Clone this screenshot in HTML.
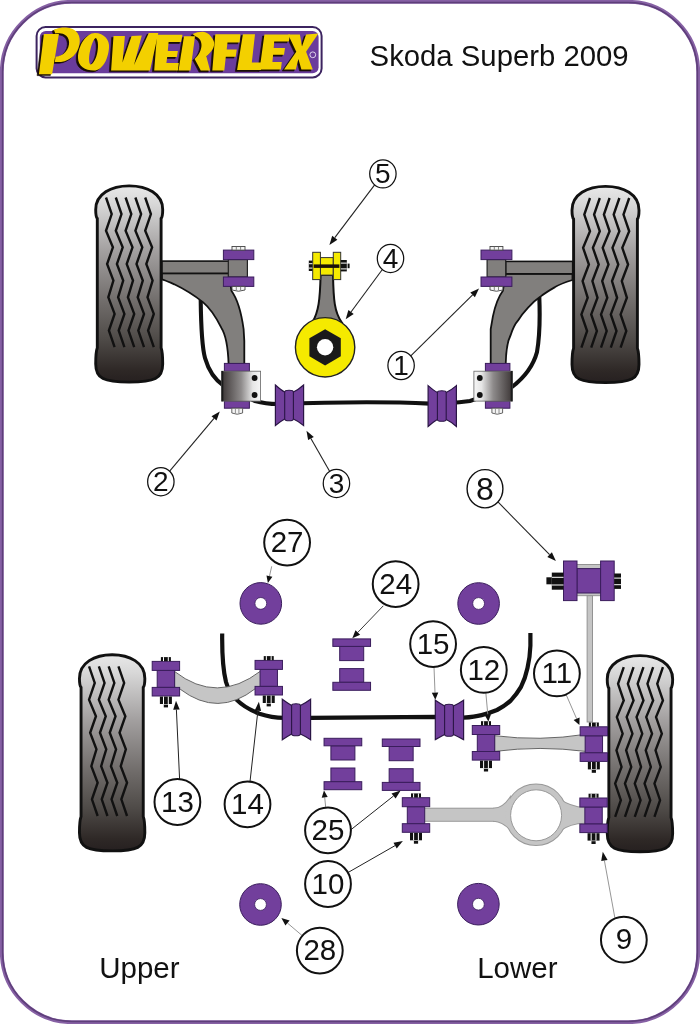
<!DOCTYPE html>
<html><head><meta charset="utf-8">
<style>
html,body{margin:0;padding:0;background:#fff;width:700px;height:1024px;overflow:hidden}
svg{display:block;font-family:"Liberation Sans",sans-serif;will-change:transform}
</style></head><body>
<svg width="700" height="1024" viewBox="0 0 700 1024">
<defs>
<linearGradient id="tireg" x1="0" y1="0" x2="0" y2="1">
<stop offset="0" stop-color="#e8e8e8"/>
<stop offset="0.09" stop-color="#d8d8d8"/>
<stop offset="0.33" stop-color="#a3a0a0"/>
<stop offset="0.6" stop-color="#6f6b69"/>
<stop offset="0.78" stop-color="#4f4b48"/>
<stop offset="0.94" stop-color="#2e2826"/>
<stop offset="1" stop-color="#262020"/>
</linearGradient>
<linearGradient id="clampL" x1="0" y1="0" x2="1" y2="0">
<stop offset="0" stop-color="#3c3636"/>
<stop offset="0.5" stop-color="#8e8b8b"/>
<stop offset="0.8" stop-color="#e6e6e6"/>
<stop offset="1" stop-color="#f6f6f6"/>
</linearGradient>
<linearGradient id="clampR" x1="1" y1="0" x2="0" y2="0">
<stop offset="0" stop-color="#3c3636"/>
<stop offset="0.5" stop-color="#8e8b8b"/>
<stop offset="0.8" stop-color="#e6e6e6"/>
<stop offset="1" stop-color="#f6f6f6"/>
</linearGradient>
<path id="tireshape" d="M2.3,33 C0,31 0,28 0,24 C0,8 16,0 34.25,0 C52.5,0 68.5,8 68.5,24 C68.5,28 68.5,31 66.2,33 L66.2,163.6 C68.5,168 68.5,172 68.5,180 C68.5,195 60,198.4 34.25,198.4 C8.5,198.4 0,195 0,180 C0,172 0,168 2.3,163.6 Z"/>
</defs>
<rect x="1.8" y="1.8" width="696.4" height="1020.4" rx="70" ry="70" fill="none" stroke="#8660a4" stroke-width="3.8"/>
<rect x="2.6" y="2.6" width="694.8" height="1018.8" rx="69.2" ry="69.2" fill="none" stroke="#5e3f7a" stroke-width="1.5"/>
<text x="369.6" y="65.9" font-size="29.3" fill="#111">Skoda Superb 2009</text>
<text x="99.2" y="977.8" font-size="29.5" fill="#111">Upper</text>
<text x="477.2" y="977.8" font-size="29.5" fill="#111">Lower</text>

<g transform="translate(95.7,185.9)"><path d="M1.6,32.63 C0,30.66 0,27.69 0,23.73 C0,7.91 15.61,0 33.50,0 C51.39,0 67.0,7.91 67.0,23.73 C67.0,27.69 67.0,30.66 65.4,32.63 L65.4,161.79 C67.0,166.14 67.0,170.09 67.0,178.00 C67.0,192.84 58.69,196.2 33.50,196.2 C8.31,196.2 0,192.84 0,178.00 C0,170.09 0,166.14 1.6,161.79 Z" fill="url(#tireg)" stroke="#111" stroke-width="2.9"/><polyline points="10.3,11.6 16.0,28.2 10.3,44.9 17.2,61.5 11.4,78.1 17.7,94.7 12.6,111.4 18.9,128.0 13.2,144.6 18.9,161.3" fill="none" stroke="#111" stroke-width="2.4" stroke-linejoin="miter"/><polyline points="20.1,11.6 25.8,28.2 20.1,44.9 27.0,61.5 21.2,78.1 27.5,94.7 22.4,111.4 28.7,128.0 23.0,144.6 28.7,161.3" fill="none" stroke="#111" stroke-width="2.4" stroke-linejoin="miter"/><polyline points="29.9,11.6 35.6,28.2 29.9,44.9 36.8,61.5 31.0,78.1 37.3,94.7 32.2,111.4 38.5,128.0 32.8,144.6 38.5,161.3" fill="none" stroke="#111" stroke-width="2.4" stroke-linejoin="miter"/><polyline points="39.7,11.6 45.4,28.2 39.7,44.9 46.6,61.5 40.8,78.1 47.1,94.7 42.0,111.4 48.3,128.0 42.6,144.6 48.3,161.3" fill="none" stroke="#111" stroke-width="2.4" stroke-linejoin="miter"/><polyline points="49.5,11.6 55.2,28.2 49.5,44.9 56.4,61.5 50.6,78.1 56.9,94.7 51.8,111.4 58.1,128.0 52.4,144.6 58.1,161.3" fill="none" stroke="#111" stroke-width="2.4" stroke-linejoin="miter"/></g>
<g transform="translate(639.0,186.4) scale(-1,1)"><path d="M1.6,32.63 C0,30.66 0,27.69 0,23.73 C0,7.91 15.61,0 33.50,0 C51.39,0 67.0,7.91 67.0,23.73 C67.0,27.69 67.0,30.66 65.4,32.63 L65.4,161.79 C67.0,166.14 67.0,170.09 67.0,178.00 C67.0,192.84 58.69,196.2 33.50,196.2 C8.31,196.2 0,192.84 0,178.00 C0,170.09 0,166.14 1.6,161.79 Z" fill="url(#tireg)" stroke="#111" stroke-width="2.9"/><polyline points="9.8,11.6 15.5,28.2 9.8,44.9 16.7,61.5 10.9,78.1 17.2,94.7 12.1,111.4 18.4,128.0 12.7,144.6 18.4,161.3" fill="none" stroke="#111" stroke-width="2.4" stroke-linejoin="miter"/><polyline points="19.6,11.6 25.3,28.2 19.6,44.9 26.5,61.5 20.7,78.1 27.0,94.7 21.9,111.4 28.2,128.0 22.5,144.6 28.2,161.3" fill="none" stroke="#111" stroke-width="2.4" stroke-linejoin="miter"/><polyline points="29.4,11.6 35.1,28.2 29.4,44.9 36.3,61.5 30.5,78.1 36.8,94.7 31.7,111.4 38.0,128.0 32.3,144.6 38.0,161.3" fill="none" stroke="#111" stroke-width="2.4" stroke-linejoin="miter"/><polyline points="39.2,11.6 44.9,28.2 39.2,44.9 46.1,61.5 40.3,78.1 46.6,94.7 41.5,111.4 47.8,128.0 42.1,144.6 47.8,161.3" fill="none" stroke="#111" stroke-width="2.4" stroke-linejoin="miter"/><polyline points="49.0,11.6 54.7,28.2 49.0,44.9 55.9,61.5 50.1,78.1 56.4,94.7 51.3,111.4 57.6,128.0 51.9,144.6 57.6,161.3" fill="none" stroke="#111" stroke-width="2.4" stroke-linejoin="miter"/></g>
<g transform="translate(79.45,654.7)"><path d="M1.6,32.63 C0,30.66 0,27.69 0,23.73 C0,7.91 15.24,0 32.70,0 C50.16,0 65.4,7.91 65.4,23.73 C65.4,27.69 65.4,30.66 63.800000000000004,32.63 L63.800000000000004,161.79 C65.4,166.14 65.4,170.09 65.4,178.00 C65.4,192.84 57.29,196.2 32.70,196.2 C8.11,196.2 0,192.84 0,178.00 C0,170.09 0,166.14 1.6,161.79 Z" fill="url(#tireg)" stroke="#111" stroke-width="2.9"/><polyline points="9.6,11.6 15.3,28.2 9.6,44.9 16.5,61.5 10.7,78.1 17.0,94.7 11.9,111.4 18.2,128.0 12.5,144.6 18.2,161.3" fill="none" stroke="#111" stroke-width="2.4" stroke-linejoin="miter"/><polyline points="19.4,11.6 25.1,28.2 19.4,44.9 26.3,61.5 20.5,78.1 26.8,94.7 21.7,111.4 28.0,128.0 22.3,144.6 28.0,161.3" fill="none" stroke="#111" stroke-width="2.4" stroke-linejoin="miter"/><polyline points="29.2,11.6 34.9,28.2 29.2,44.9 36.1,61.5 30.3,78.1 36.6,94.7 31.5,111.4 37.8,128.0 32.1,144.6 37.8,161.3" fill="none" stroke="#111" stroke-width="2.4" stroke-linejoin="miter"/><polyline points="39.0,11.6 44.7,28.2 39.0,44.9 45.9,61.5 40.1,78.1 46.4,94.7 41.3,111.4 47.6,128.0 41.9,144.6 47.6,161.3" fill="none" stroke="#111" stroke-width="2.4" stroke-linejoin="miter"/></g>
<g transform="translate(672.65,655.6) scale(-1,1)"><path d="M1.6,32.63 C0,30.66 0,27.69 0,23.73 C0,7.91 15.24,0 32.70,0 C50.16,0 65.4,7.91 65.4,23.73 C65.4,27.69 65.4,30.66 63.800000000000004,32.63 L63.800000000000004,161.79 C65.4,166.14 65.4,170.09 65.4,178.00 C65.4,192.84 57.29,196.2 32.70,196.2 C8.11,196.2 0,192.84 0,178.00 C0,170.09 0,166.14 1.6,161.79 Z" fill="url(#tireg)" stroke="#111" stroke-width="2.9"/><polyline points="9.7,11.6 15.4,28.2 9.7,44.9 16.6,61.5 10.8,78.1 17.1,94.7 11.9,111.4 18.2,128.0 12.6,144.6 18.2,161.3" fill="none" stroke="#111" stroke-width="2.4" stroke-linejoin="miter"/><polyline points="19.5,11.6 25.2,28.2 19.5,44.9 26.4,61.5 20.6,78.1 26.9,94.7 21.8,111.4 28.1,128.0 22.4,144.6 28.1,161.3" fill="none" stroke="#111" stroke-width="2.4" stroke-linejoin="miter"/><polyline points="29.2,11.6 35.0,28.2 29.2,44.9 36.1,61.5 30.4,78.1 36.6,94.7 31.6,111.4 37.9,128.0 32.1,144.6 37.9,161.3" fill="none" stroke="#111" stroke-width="2.4" stroke-linejoin="miter"/><polyline points="39.1,11.6 44.8,28.2 39.1,44.9 46.0,61.5 40.2,78.1 46.5,94.7 41.4,111.4 47.7,128.0 42.0,144.6 47.7,161.3" fill="none" stroke="#111" stroke-width="2.4" stroke-linejoin="miter"/><polyline points="48.9,11.6 54.6,28.2 48.9,44.9 55.8,61.5 50.0,78.1 56.2,94.7 51.1,111.4 57.5,128.0 51.8,144.6 57.5,161.3" fill="none" stroke="#111" stroke-width="2.4" stroke-linejoin="miter"/></g>
<rect x="36.6" y="27" width="285" height="50.4" rx="9" ry="9" fill="#fff" stroke="#3c2460" stroke-width="2"/>
<rect x="39.8" y="30.9" width="278.8" height="42.3" rx="6" ry="6" fill="#6a3c9c"/>
<g fill="#1a0e05" fill-rule="evenodd" stroke="#1a0e05" stroke-width="0.6" transform="translate(-1.8,1.4)"><path d="M38.9,74.2 L43.9,34 L58.9,34 L52.1,74.2 Z"/><path d="M53.9,29.7 C58,27.8 62,27.3 66,27.4 C71,27.6 75,29.5 77.5,33 C80,36.5 80.2,41 79.3,45 C78.5,49 76.5,53 73.5,56 C70.5,59 66,61.3 61,61.9 L54.8,61.9 L55.6,56.8 C59.5,56.5 62.8,54.8 65.4,52 C68,49 69.3,45.5 69.1,42 C68.9,38.5 67.2,35.8 64.3,34.4 C61.5,33.2 58.2,33.1 55.3,33.4 Z"/><path d="M95,33 C104,33 110,40 109,48 C108,60 102,70.5 94,70.5 C85,70.5 78,66 78,58 C78,46 86,33 95,33 Z M96,38 C98.5,40.5 98.5,48 97,54 C95.5,60 92.5,64.5 90.5,64.5 C88.5,63 88.8,56 90.3,50 C91.8,44 94,38 96,38 Z"/><path d="M113.5,36 L124.9,36 L122.5,62.6 L131.6,36 L141.8,35.5 L134,64.9 L148.8,32.9 L158.3,32.9 L150,70.4 L111.1,70.4 Z"/><path d="M157,34.7 L182.5,34.7 L181.1,42.1 L168.6,42.1 L167.8,50.9 L177.9,50.9 L176.9,57 L167.2,57 L166.4,63 L178.8,63 L177.9,70.4 L154.2,70.4 Z"/><path d="M184,36.3 L195,36.3 L190.5,70.6 L178.5,70.6 Z"/><path d="M192.6,33.9 C196,32.5 199,31.8 202.9,31.8 C206,32 209,33.8 210.9,36.5 C213.5,39.5 214.5,42 214.2,44.5 C213.8,47 213,49 211.5,51 C209.8,53 208,55 206.3,56.2 L210.1,70.6 L200.8,70.6 L194.6,58.9 C196.5,57 198.5,55 199.6,52.5 C200.8,50 201.5,47.5 201.5,45 C201.4,42.5 200.8,40.5 199.4,39 C198,37.6 196.8,36.8 195.3,36.3 Z"/><path d="M215.3,34.3 L240.4,34.2 L239.6,42.4 L227.5,42.4 L226.7,49.6 L236.8,49.6 L235.7,56.7 L225.8,56.7 L224.3,70.4 L212.3,70.4 Z"/><path d="M242.9,34.2 L255,34.2 L251.8,62.4 L262,62.4 L260.9,70 L237.1,70 Z"/><path d="M264.4,34.6 L290.1,34.6 L288.8,41.4 L274.2,41.4 L273.7,48.1 L285,48.1 L284,54.8 L273.1,54.8 L272.4,61.9 L281.8,61.9 L280.9,69.6 L259.6,69.6 Z"/><path d="M288.1,34.6 L299.9,34.6 L302,46.6 L306.1,34.6 L318.4,33.4 L306.1,51.7 L312.8,69.6 L301.4,69.6 L298.4,58.9 L295.8,69.6 L284,69.6 L296.3,51.7 Z"/></g>
<g fill="#f3d000" fill-rule="evenodd"><path d="M38.9,74.2 L43.9,34 L58.9,34 L52.1,74.2 Z"/><path d="M53.9,29.7 C58,27.8 62,27.3 66,27.4 C71,27.6 75,29.5 77.5,33 C80,36.5 80.2,41 79.3,45 C78.5,49 76.5,53 73.5,56 C70.5,59 66,61.3 61,61.9 L54.8,61.9 L55.6,56.8 C59.5,56.5 62.8,54.8 65.4,52 C68,49 69.3,45.5 69.1,42 C68.9,38.5 67.2,35.8 64.3,34.4 C61.5,33.2 58.2,33.1 55.3,33.4 Z"/><path d="M95,33 C104,33 110,40 109,48 C108,60 102,70.5 94,70.5 C85,70.5 78,66 78,58 C78,46 86,33 95,33 Z M96,38 C98.5,40.5 98.5,48 97,54 C95.5,60 92.5,64.5 90.5,64.5 C88.5,63 88.8,56 90.3,50 C91.8,44 94,38 96,38 Z"/><path d="M113.5,36 L124.9,36 L122.5,62.6 L131.6,36 L141.8,35.5 L134,64.9 L148.8,32.9 L158.3,32.9 L150,70.4 L111.1,70.4 Z"/><path d="M157,34.7 L182.5,34.7 L181.1,42.1 L168.6,42.1 L167.8,50.9 L177.9,50.9 L176.9,57 L167.2,57 L166.4,63 L178.8,63 L177.9,70.4 L154.2,70.4 Z"/><path d="M184,36.3 L195,36.3 L190.5,70.6 L178.5,70.6 Z"/><path d="M192.6,33.9 C196,32.5 199,31.8 202.9,31.8 C206,32 209,33.8 210.9,36.5 C213.5,39.5 214.5,42 214.2,44.5 C213.8,47 213,49 211.5,51 C209.8,53 208,55 206.3,56.2 L210.1,70.6 L200.8,70.6 L194.6,58.9 C196.5,57 198.5,55 199.6,52.5 C200.8,50 201.5,47.5 201.5,45 C201.4,42.5 200.8,40.5 199.4,39 C198,37.6 196.8,36.8 195.3,36.3 Z"/><path d="M215.3,34.3 L240.4,34.2 L239.6,42.4 L227.5,42.4 L226.7,49.6 L236.8,49.6 L235.7,56.7 L225.8,56.7 L224.3,70.4 L212.3,70.4 Z"/><path d="M242.9,34.2 L255,34.2 L251.8,62.4 L262,62.4 L260.9,70 L237.1,70 Z"/><path d="M264.4,34.6 L290.1,34.6 L288.8,41.4 L274.2,41.4 L273.7,48.1 L285,48.1 L284,54.8 L273.1,54.8 L272.4,61.9 L281.8,61.9 L280.9,69.6 L259.6,69.6 Z"/><path d="M288.1,34.6 L299.9,34.6 L302,46.6 L306.1,34.6 L318.4,33.4 L306.1,51.7 L312.8,69.6 L301.4,69.6 L298.4,58.9 L295.8,69.6 L284,69.6 L296.3,51.7 Z"/></g>
<circle cx="312.8" cy="54.8" r="2.9" fill="none" stroke="#e8e0f0" stroke-width="0.9"/>
<path d="M200.7,300 C201,325 201.5,345 205,358 C209,372 215,380 224,386 L255,401 C262,403 268,404 278,404 Q370,400.6 430,403.6 C436,403.8 448,403.6 470,401 L512,387 C525,377 533,367 537,352 C540,335 540,315 539.3,297" fill="none" stroke="#111" stroke-width="4.1" stroke-linecap="butt"/>
<path d="M162,273.3 L229,273.3 L231.4,290.7 C236,297 241,310 243.6,329 L244.3,341 L244.3,364 L228.6,364 C228,348 226,335 221.4,327.9 C216,317 210,308 202.9,302.1 C195,296 182,288 174.3,284.3 C169,282 165,280 162,279.3 Z" fill="#817f7d" stroke="#111" stroke-width="1.8"/>
<rect x="162" y="261.1" width="67" height="12.2" fill="#817f7d" stroke="#111" stroke-width="1.6"/>
<path d="M572.5,273.8 L505.7,273.8 L502.9,290.7 C499,296 495,306 492.9,316.4 L490.7,329 L490.7,364 L505.7,364 C506,350 507,342 510.7,335 C513,328 515,324 517.9,320.7 C522,314 526,310 529.3,306.4 C534,301 537,299 540.7,296.4 C545,293 550,290 555,287.1 C560,284 566,282 572.5,280 Z" fill="#817f7d" stroke="#111" stroke-width="1.8"/>
<rect x="505.7" y="261.4" width="67" height="12.4" fill="#817f7d" stroke="#111" stroke-width="1.6"/>
<rect x="228.3" y="259.5" width="19.10" height="17.50" fill="#817f7d" stroke="#222" stroke-width="1.2"/><rect x="223.4" y="250.1" width="30.40" height="9.50" fill="#723f9c" stroke="#3a1d5c" stroke-width="1"/><rect x="223.4" y="277" width="30.40" height="9.40" fill="#723f9c" stroke="#3a1d5c" stroke-width="1"/><rect x="232" y="246.5" width="13.0" height="3.6" fill="#f4f4f4" stroke="#444" stroke-width="0.9"/><path d="M232,286.4 L232,290 Q238.5,292.5 245,290 L245,286.4 Z" fill="#f4f4f4" stroke="#444" stroke-width="0.9"/><line x1="236.3" y1="246.8" x2="236.3" y2="249.8" stroke="#666" stroke-width="0.8"/><line x1="236.3" y1="286.8" x2="236.3" y2="290" stroke="#666" stroke-width="0.8"/><line x1="240.6" y1="246.8" x2="240.6" y2="249.8" stroke="#666" stroke-width="0.8"/><line x1="240.6" y1="286.8" x2="240.6" y2="290" stroke="#666" stroke-width="0.8"/>
<rect x="487.1" y="259.5" width="18.60" height="17.50" fill="#817f7d" stroke="#222" stroke-width="1.2"/><rect x="481" y="250.1" width="30.90" height="9.50" fill="#723f9c" stroke="#3a1d5c" stroke-width="1"/><rect x="481" y="277" width="30.90" height="9.40" fill="#723f9c" stroke="#3a1d5c" stroke-width="1"/><rect x="490" y="246.5" width="12.9" height="3.6" fill="#f4f4f4" stroke="#444" stroke-width="0.9"/><path d="M490,286.4 L490,290 Q496.4,292.5 502.9,290 L502.9,286.4 Z" fill="#f4f4f4" stroke="#444" stroke-width="0.9"/><line x1="494.3" y1="246.8" x2="494.3" y2="249.8" stroke="#666" stroke-width="0.8"/><line x1="494.3" y1="286.8" x2="494.3" y2="290" stroke="#666" stroke-width="0.8"/><line x1="498.5" y1="246.8" x2="498.5" y2="249.8" stroke="#666" stroke-width="0.8"/><line x1="498.5" y1="286.8" x2="498.5" y2="290" stroke="#666" stroke-width="0.8"/>
<rect x="224.4" y="363.4" width="25.00" height="7.90" fill="#723f9c" stroke="#3a1d5c" stroke-width="1"/><rect x="224.4" y="401.1" width="25.00" height="7.10" fill="#723f9c" stroke="#3a1d5c" stroke-width="1"/><rect x="221.6" y="371.2" width="39.0" height="29.9" fill="url(#clampL)" stroke="#666" stroke-width="0.8"/><line x1="222.4" y1="371" x2="222.4" y2="401.3" stroke="#1a1a1a" stroke-width="1.8"/><circle cx="254.6" cy="378" r="2.9" fill="#111"/><circle cx="254.6" cy="395" r="2.9" fill="#111"/><path d="M231.8,408.2 L231.8,413 Q237.2,415.5 242.6,413 L242.6,408.2 Z" fill="#f4f4f4" stroke="#555" stroke-width="0.9"/><line x1="235.4" y1="408.5" x2="235.4" y2="413" stroke="#777" stroke-width="0.8"/><line x1="238.9" y1="408.5" x2="238.9" y2="413" stroke="#777" stroke-width="0.8"/>
<rect x="485.4" y="363.4" width="24.50" height="7.90" fill="#723f9c" stroke="#3a1d5c" stroke-width="1"/><rect x="485.4" y="401.1" width="24.50" height="7.10" fill="#723f9c" stroke="#3a1d5c" stroke-width="1"/><rect x="473.9" y="371.2" width="38.5" height="29.9" fill="url(#clampR)" stroke="#666" stroke-width="0.8"/><line x1="511.59999999999997" y1="371" x2="511.59999999999997" y2="401.3" stroke="#1a1a1a" stroke-width="1.8"/><circle cx="479.8" cy="378" r="2.9" fill="#111"/><circle cx="479.8" cy="395" r="2.9" fill="#111"/><path d="M491.9,408.2 L491.9,413 Q497.2,415.5 502.6,413 L502.6,408.2 Z" fill="#f4f4f4" stroke="#555" stroke-width="0.9"/><line x1="495.4" y1="408.5" x2="495.4" y2="413" stroke="#777" stroke-width="0.8"/><line x1="499.0" y1="408.5" x2="499.0" y2="413" stroke="#777" stroke-width="0.8"/>
<path d="M275.4,385 Q281.0,390.0 284.7,392 L293.4,392 Q298.0,390.0 303.6,385 L303.6,425.5 Q298.0,421.0 293.4,419 L284.7,419 Q281.0,421.0 275.4,425.5 Z" fill="#723f9c" stroke="#2a1545" stroke-width="1.2" stroke-linejoin="miter"/><path d="M284.7,392 Q284.7,390.2 289.1,390.2 Q293.4,390.2 293.4,392 L293.4,419 Q293.4,420.8 289.1,420.8 Q284.7,420.8 284.7,419 Z" fill="#723f9c" stroke="#2a1545" stroke-width="1.1"/>
<path d="M428.1,385.6 Q433.8,390.5 437.4,392.5 L446.2,392.5 Q450.7,390.5 456.4,385.6 L456.4,426.5 Q450.7,421.5 446.2,419.5 L437.4,419.5 Q433.8,421.5 428.1,426.5 Z" fill="#723f9c" stroke="#2a1545" stroke-width="1.2" stroke-linejoin="miter"/><path d="M437.4,392.5 Q437.4,390.7 441.8,390.7 Q446.2,390.7 446.2,392.5 L446.2,419.5 Q446.2,421.3 441.8,421.3 Q437.4,421.3 437.4,419.5 Z" fill="#723f9c" stroke="#2a1545" stroke-width="1.1"/>
<path d="M320.6,275 L333,275 C333.5,300 334.5,312 341.5,322 L312.5,322 C318.5,312 320,300 320.6,275 Z" fill="#817f7d" stroke="#111" stroke-width="2"/>
<circle cx="325.1" cy="347.3" r="29.7" fill="#f5ea00" stroke="#222" stroke-width="1.4"/>
<path d="M325.1,329.2 L340.8,338.25 L340.8,356.35 L325.1,365.4 L309.4,356.35 L309.4,338.25 Z" fill="#1a1a1a"/>
<circle cx="325.1" cy="347.3" r="8.2" fill="#fff"/>
<rect x="320.4" y="257.6" width="12.90" height="17.50" fill="#f5ea00" stroke="#333" stroke-width="1"/>
<rect x="312.7" y="252.3" width="7.70" height="27.30" fill="#f5ea00" stroke="#333" stroke-width="1"/>
<rect x="333.3" y="252.3" width="7.40" height="27.30" fill="#f5ea00" stroke="#333" stroke-width="1"/>
<rect x="313.7" y="264.4" width="25.7" height="3.5" fill="#1a1008"/>
<rect x="308.8" y="260.6" width="3.6" height="10.4" fill="#111"/><rect x="308.8" y="263.2" width="3.6" height="1" fill="#fff"/><rect x="308.8" y="267.6" width="3.6" height="1" fill="#fff"/>
<rect x="340.8" y="260" width="6" height="11.4" fill="#111"/><rect x="340.8" y="262.6" width="6" height="1" fill="#fff"/><rect x="340.8" y="268.4" width="6" height="1" fill="#fff"/><rect x="347.6" y="263.6" width="2" height="4.6" fill="#111"/>
<line x1="374.63" y1="184.84" x2="334.8" y2="237.7" stroke="#222" stroke-width="1.1"/><path d="M329.4,244.9 L332.2,235.8 L337.4,239.7 Z" fill="#111"/>
<line x1="382.34" y1="269.48" x2="351.0" y2="312.0" stroke="#222" stroke-width="1.1"/><path d="M345.7,319.2 L348.4,310.0 L353.7,313.9 Z" fill="#111"/>
<line x1="410.79" y1="355.93" x2="472.6" y2="294.9" stroke="#222" stroke-width="1.1"/><path d="M479,288.6 L474.9,297.2 L470.3,292.6 Z" fill="#111"/>
<line x1="169.66" y1="471.2" x2="214.0" y2="418.4" stroke="#222" stroke-width="1.1"/><path d="M219.8,411.5 L216.5,420.5 L211.5,416.3 Z" fill="#111"/>
<line x1="329.6" y1="471.35" x2="310.9" y2="438.5" stroke="#222" stroke-width="1.1"/><path d="M306.5,430.7 L313.8,436.9 L308.1,440.1 Z" fill="#111"/>
<path d="M222.2,633.5 C222,650 222.5,668 226,682 C230,696 242,707 259.4,713.7 C268,716.5 276,717.8 284,717.9 L310,717.9 L436,716.8 L463.6,717.7 C470,717.2 476,716.5 481.6,715.1 C488,713.5 492,712 497,710 C503,707 507,704 510.7,700.6 C515,696 518,692 521,686.9 C524,681 526,675 527.5,668 C529.3,660 530.2,652 530.4,645.7 L530.4,633" fill="none" stroke="#111" stroke-width="4.2"/>
<rect x="587.1" y="595.5" width="5.4" height="126.5" fill="#c5c5c5" stroke="#8c8c8c" stroke-width="0.9"/>
<rect x="575" y="564.5" width="27.5" height="31.2" fill="#c5c5c5" stroke="#8c8c8c" stroke-width="0.9"/>
<rect x="577" y="568.6" width="23.60" height="24.40" fill="#723f9c" stroke="#3a1d5c" stroke-width="1"/>
<rect x="563.5" y="561" width="13.50" height="39.60" fill="#723f9c" stroke="#3a1d5c" stroke-width="1"/><rect x="600.6" y="561" width="13.60" height="39.60" fill="#723f9c" stroke="#3a1d5c" stroke-width="1"/>
<rect x="551.8" y="572.6" width="11.7" height="17.1" fill="#111"/><rect x="551.8" y="576.8" width="11.7" height="1" fill="#fff"/><rect x="551.8" y="584.5" width="11.7" height="1" fill="#fff"/>
<rect x="546.4" y="577.3" width="5.4" height="7" fill="#111"/>
<rect x="614.2" y="573.5" width="6.8" height="15.4" fill="#111"/><rect x="614.2" y="577.6" width="6.8" height="1" fill="#fff"/><rect x="614.2" y="584.2" width="6.8" height="1" fill="#fff"/>
<path d="M174.6,671.5 Q217,704.5 260.7,671 L260.7,686.5 L255.5,688.5 Q218,718 180.2,689.2 L174.6,687 Z" fill="#c5c5c5" stroke="#666" stroke-width="1"/>
<rect x="157.20000000000002" y="670.4" width="17.40" height="17.00" fill="#723f9c" stroke="#3a1d5c" stroke-width="1"/><rect x="152.20000000000002" y="661.4" width="27.40" height="9.00" fill="#723f9c" stroke="#3a1d5c" stroke-width="1"/><rect x="152.20000000000002" y="687.4" width="27.40" height="8.60" fill="#723f9c" stroke="#3a1d5c" stroke-width="1"/><rect x="160.90" y="657.1" width="10" height="4.00" fill="#111"/><rect x="163.00" y="657.1" width="1" height="4.00" fill="#fff"/><rect x="167.80" y="657.1" width="1" height="4.00" fill="#fff"/><rect x="159.90" y="696.6" width="12" height="7.40" fill="#111"/><rect x="163.00" y="696.6" width="1" height="7.40" fill="#fff"/><rect x="167.80" y="696.6" width="1" height="7.40" fill="#fff"/><rect x="163.80" y="704.60" width="4.2" height="2.8" fill="#111"/>
<rect x="260.05" y="669.4" width="17.40" height="17.00" fill="#723f9c" stroke="#3a1d5c" stroke-width="1"/><rect x="255.05" y="660.4" width="27.40" height="9.00" fill="#723f9c" stroke="#3a1d5c" stroke-width="1"/><rect x="255.05" y="686.4" width="27.40" height="8.60" fill="#723f9c" stroke="#3a1d5c" stroke-width="1"/><rect x="263.75" y="656.1" width="10" height="4.00" fill="#111"/><rect x="265.85" y="656.1" width="1" height="4.00" fill="#fff"/><rect x="270.65" y="656.1" width="1" height="4.00" fill="#fff"/><rect x="262.75" y="695.6" width="12" height="7.40" fill="#111"/><rect x="265.85" y="695.6" width="1" height="7.40" fill="#fff"/><rect x="270.65" y="695.6" width="1" height="7.40" fill="#fff"/><rect x="266.65" y="703.60" width="4.2" height="2.8" fill="#111"/>
<path d="M494.6,735.7 Q540,741.5 585.7,734.3 L585.7,751.4 Q540,745.5 494.6,751.4 Z" fill="#c5c5c5" stroke="#666" stroke-width="1"/>
<rect x="477.3" y="734.5" width="17.40" height="17.00" fill="#723f9c" stroke="#3a1d5c" stroke-width="1"/><rect x="472.3" y="725.5" width="27.40" height="9.00" fill="#723f9c" stroke="#3a1d5c" stroke-width="1"/><rect x="472.3" y="751.5" width="27.40" height="8.60" fill="#723f9c" stroke="#3a1d5c" stroke-width="1"/><rect x="481.00" y="721.2" width="10" height="4.00" fill="#111"/><rect x="483.10" y="721.2" width="1" height="4.00" fill="#fff"/><rect x="487.90" y="721.2" width="1" height="4.00" fill="#fff"/><rect x="480.00" y="760.7" width="12" height="7.40" fill="#111"/><rect x="483.10" y="760.7" width="1" height="7.40" fill="#fff"/><rect x="487.90" y="760.7" width="1" height="7.40" fill="#fff"/><rect x="483.90" y="768.70" width="4.2" height="2.8" fill="#111"/>
<rect x="585.15" y="735.8" width="17.40" height="17.00" fill="#723f9c" stroke="#3a1d5c" stroke-width="1"/><rect x="580.15" y="726.8" width="27.40" height="9.00" fill="#723f9c" stroke="#3a1d5c" stroke-width="1"/><rect x="580.15" y="752.8" width="27.40" height="8.60" fill="#723f9c" stroke="#3a1d5c" stroke-width="1"/><rect x="588.85" y="722.5" width="10" height="4.00" fill="#111"/><rect x="590.95" y="722.5" width="1" height="4.00" fill="#fff"/><rect x="595.75" y="722.5" width="1" height="4.00" fill="#fff"/><rect x="587.85" y="762.0" width="12" height="7.40" fill="#111"/><rect x="590.95" y="762.0" width="1" height="7.40" fill="#fff"/><rect x="595.75" y="762.0" width="1" height="7.40" fill="#fff"/><rect x="591.75" y="770.00" width="4.2" height="2.8" fill="#111"/>
<g fill="none" stroke="#999" stroke-width="2"><rect x="424.6" y="808.7" width="86" height="12.1"/><path d="M494,808.7 Q503,808.3 510,798 L513,832 Q503,821.2 494,820.8 Z"/><circle cx="536" cy="814.8" r="30.3"/><path d="M559,799 Q570,807 585,808.3 L585,822.8 Q570,823 559,831 Z"/></g>
<g fill="#c5c5c5"><rect x="424.6" y="808.7" width="86" height="12.1"/><path d="M494,808.7 Q503,808.3 510,798 L513,832 Q503,821.2 494,820.8 Z"/><circle cx="536" cy="814.8" r="30.3"/><path d="M559,799 Q570,807 585,808.3 L585,822.8 Q570,823 559,831 Z"/></g>
<circle cx="536.1" cy="815.3" r="25.5" fill="#fff" stroke="#999" stroke-width="1"/>
<rect x="407.3" y="806.7" width="17.40" height="17.00" fill="#723f9c" stroke="#3a1d5c" stroke-width="1"/><rect x="402.3" y="797.7" width="27.40" height="9.00" fill="#723f9c" stroke="#3a1d5c" stroke-width="1"/><rect x="402.3" y="823.7" width="27.40" height="8.60" fill="#723f9c" stroke="#3a1d5c" stroke-width="1"/><rect x="411.00" y="793.4000000000001" width="10" height="4.00" fill="#111"/><rect x="413.10" y="793.4000000000001" width="1" height="4.00" fill="#fff"/><rect x="417.90" y="793.4000000000001" width="1" height="4.00" fill="#fff"/><rect x="410.00" y="832.9000000000001" width="12" height="7.40" fill="#111"/><rect x="413.10" y="832.9000000000001" width="1" height="7.40" fill="#fff"/><rect x="417.90" y="832.9000000000001" width="1" height="7.40" fill="#fff"/><rect x="413.90" y="840.90" width="4.2" height="2.8" fill="#111"/>
<rect x="584.8499999999999" y="807" width="17.40" height="17.00" fill="#723f9c" stroke="#3a1d5c" stroke-width="1"/><rect x="579.8499999999999" y="798" width="27.40" height="9.00" fill="#723f9c" stroke="#3a1d5c" stroke-width="1"/><rect x="579.8499999999999" y="824" width="27.40" height="8.60" fill="#723f9c" stroke="#3a1d5c" stroke-width="1"/><rect x="588.55" y="793.7" width="10" height="4.00" fill="#111"/><rect x="590.65" y="793.7" width="1" height="4.00" fill="#fff"/><rect x="595.45" y="793.7" width="1" height="4.00" fill="#fff"/><rect x="587.55" y="833.2" width="12" height="7.40" fill="#111"/><rect x="590.65" y="833.2" width="1" height="7.40" fill="#fff"/><rect x="595.45" y="833.2" width="1" height="7.40" fill="#fff"/><rect x="591.45" y="841.20" width="4.2" height="2.8" fill="#111"/>
<rect x="339.7" y="646.4" width="24.00" height="14.20" fill="#723f9c" stroke="#3a1d5c" stroke-width="1"/><rect x="332.84999999999997" y="638.9" width="37.70" height="7.50" fill="#723f9c" stroke="#3a1d5c" stroke-width="1"/><rect x="339.7" y="668.6" width="24.00" height="13.70" fill="#723f9c" stroke="#3a1d5c" stroke-width="1"/><rect x="332.84999999999997" y="682.3" width="37.70" height="8.00" fill="#723f9c" stroke="#3a1d5c" stroke-width="1"/>
<rect x="330.9" y="745.8" width="24.00" height="14.20" fill="#723f9c" stroke="#3a1d5c" stroke-width="1"/><rect x="324.04999999999995" y="738.3" width="37.70" height="7.50" fill="#723f9c" stroke="#3a1d5c" stroke-width="1"/><rect x="330.9" y="768.0" width="24.00" height="13.70" fill="#723f9c" stroke="#3a1d5c" stroke-width="1"/><rect x="324.04999999999995" y="781.6999999999999" width="37.70" height="8.00" fill="#723f9c" stroke="#3a1d5c" stroke-width="1"/>
<rect x="389.15" y="746.5" width="24.00" height="14.20" fill="#723f9c" stroke="#3a1d5c" stroke-width="1"/><rect x="382.29999999999995" y="739" width="37.70" height="7.50" fill="#723f9c" stroke="#3a1d5c" stroke-width="1"/><rect x="389.15" y="768.7" width="24.00" height="13.70" fill="#723f9c" stroke="#3a1d5c" stroke-width="1"/><rect x="382.29999999999995" y="782.4" width="37.70" height="8.00" fill="#723f9c" stroke="#3a1d5c" stroke-width="1"/>
<path d="M282.3,699.3 Q288.0,703.5 291.6,705.5 L300.4,705.5 Q304.9,703.5 310.6,699.3 L310.6,739.8 Q304.9,736.0 300.4,734 L291.6,734 Q288.0,736.0 282.3,739.8 Z" fill="#723f9c" stroke="#2a1545" stroke-width="1.2" stroke-linejoin="miter"/><path d="M291.6,705.5 Q291.6,703.7 296.0,703.7 Q300.4,703.7 300.4,705.5 L300.4,734 Q300.4,735.8 296.0,735.8 Q291.6,735.8 291.6,734 Z" fill="#723f9c" stroke="#2a1545" stroke-width="1.1"/>
<path d="M435.3,700.2 Q441.0,704.0 444.6,706 L453.4,706 Q457.9,704.0 463.6,700.2 L463.6,739.6 Q457.9,736.5 453.4,734.5 L444.6,734.5 Q441.0,736.5 435.3,739.6 Z" fill="#723f9c" stroke="#2a1545" stroke-width="1.2" stroke-linejoin="miter"/><path d="M444.6,706 Q444.6,704.2 449.0,704.2 Q453.4,704.2 453.4,706 L453.4,734.5 Q453.4,736.3 449.0,736.3 Q444.6,736.3 444.6,734.5 Z" fill="#723f9c" stroke="#2a1545" stroke-width="1.1"/>
<line x1="271.7" y1="566.3" x2="269.5" y2="576.1" stroke="#8a8a8a" stroke-width="0.9"/><path d="M267.9,582.9 L266.5,575.4 L272.4,576.7 Z" fill="#111"/>
<line x1="383.3" y1="605.8" x2="357.8" y2="632.4" stroke="#222" stroke-width="0.9"/><path d="M352.3,638.2 L355.5,630.2 L360.2,634.7 Z" fill="#111"/>
<line x1="434.01" y1="666.98" x2="435.0" y2="692.7" stroke="#8a8a8a" stroke-width="0.9"/><path d="M435.3,699.7 L431.8,692.8 L438.3,692.6 Z" fill="#111"/>
<line x1="485.83" y1="692.71" x2="487.8" y2="714.5" stroke="#8a8a8a" stroke-width="0.9"/><path d="M488.4,721.5 L484.5,714.8 L491.0,714.2 Z" fill="#111"/>
<line x1="566.04" y1="694.4" x2="576.6" y2="718.7" stroke="#8a8a8a" stroke-width="0.9"/><path d="M579.4,725.1 L573.6,720.0 L579.6,717.4 Z" fill="#111"/>
<line x1="497.95" y1="501.94" x2="549.6" y2="554.6" stroke="#222" stroke-width="1.1"/><path d="M555.9,561 L547.3,556.9 L551.9,552.3 Z" fill="#111"/>
<line x1="179.6" y1="779.3" x2="176.4" y2="709.7" stroke="#222" stroke-width="1"/><path d="M176,700.7 L179.7,709.5 L173.2,709.8 Z" fill="#111"/>
<line x1="250.03" y1="781.54" x2="257.9" y2="710.7" stroke="#222" stroke-width="1"/><path d="M258.9,701.8 L261.1,711.1 L254.7,710.4 Z" fill="#111"/>
<line x1="325.72" y1="807.51" x2="324.7" y2="797.4" stroke="#8a8a8a" stroke-width="0.9"/><path d="M324,790.4 L327.7,797.1 L321.7,797.7 Z" fill="#111"/>
<line x1="351.2" y1="829.5" x2="393.5" y2="796.0" stroke="#222" stroke-width="1"/><path d="M400.6,790.4 L395.6,798.5 L391.5,793.4 Z" fill="#111"/>
<line x1="347.87" y1="872.62" x2="395.1" y2="845.6" stroke="#222" stroke-width="1"/><path d="M402.9,841.1 L396.7,848.4 L393.5,842.8 Z" fill="#111"/>
<line x1="302.37" y1="935.75" x2="287.5" y2="923.1" stroke="#8a8a8a" stroke-width="0.9"/><path d="M281.4,917.9 L289.6,920.6 L285.4,925.6 Z" fill="#111"/>
<line x1="614.8" y1="917.5" x2="604.4" y2="860.6" stroke="#8a8a8a" stroke-width="0.9"/><path d="M602.8,851.7 L607.6,860.0 L601.2,861.1 Z" fill="#111"/>
<ellipse cx="382.9" cy="173.85" rx="13.2" ry="14.1" fill="#fff" stroke="#111" stroke-width="1.25"/><text x="382.9" y="183.4" font-size="28" text-anchor="middle" fill="#111">5</text>
<ellipse cx="390.5" cy="258.4" rx="13.2" ry="14.1" fill="#fff" stroke="#111" stroke-width="1.25"/><text x="390.5" y="267.9" font-size="28" text-anchor="middle" fill="#111">4</text>
<ellipse cx="401.1" cy="365.5" rx="13.2" ry="14.1" fill="#fff" stroke="#111" stroke-width="1.25"/><text x="401.1" y="375.0" font-size="28" text-anchor="middle" fill="#111">1</text>
<ellipse cx="160.85" cy="481.7" rx="13.2" ry="14.1" fill="#fff" stroke="#111" stroke-width="1.25"/><text x="160.85" y="491.2" font-size="28" text-anchor="middle" fill="#111">2</text>
<ellipse cx="336.45" cy="483.4" rx="13.2" ry="14.1" fill="#fff" stroke="#111" stroke-width="1.25"/><text x="336.45" y="492.9" font-size="28" text-anchor="middle" fill="#111">3</text>
<ellipse cx="485" cy="488.75" rx="17.9" ry="19.1" fill="#fff" stroke="#111" stroke-width="1.4"/><text x="485" y="500.3" font-size="32" text-anchor="middle" fill="#111">8</text>
<ellipse cx="287.1" cy="542.6" rx="22.9" ry="22.9" fill="#fff" stroke="#111" stroke-width="2"/><text x="287.1" y="552.2" font-size="29.5" text-anchor="middle" fill="#111">27</text>
<ellipse cx="395.65" cy="584.1" rx="22.9" ry="22.9" fill="#fff" stroke="#111" stroke-width="2"/><text x="395.65" y="593.7" font-size="29.5" text-anchor="middle" fill="#111">24</text>
<ellipse cx="433.1" cy="644.1" rx="22.9" ry="22.9" fill="#fff" stroke="#111" stroke-width="2"/><text x="433.1" y="653.7" font-size="29.5" text-anchor="middle" fill="#111">15</text>
<ellipse cx="483.8" cy="669.9" rx="22.9" ry="22.9" fill="#fff" stroke="#111" stroke-width="2"/><text x="483.8" y="679.5" font-size="29.5" text-anchor="middle" fill="#111">12</text>
<ellipse cx="556.9" cy="673.4" rx="22.9" ry="22.9" fill="#fff" stroke="#111" stroke-width="2"/><text x="556.9" y="683.0" font-size="29.5" text-anchor="middle" fill="#111">11</text>
<ellipse cx="177.4" cy="802" rx="22.9" ry="22.9" fill="#fff" stroke="#111" stroke-width="2"/><text x="177.4" y="811.6" font-size="29.5" text-anchor="middle" fill="#111">13</text>
<ellipse cx="247.5" cy="804.3" rx="22.9" ry="22.9" fill="#fff" stroke="#111" stroke-width="2"/><text x="247.5" y="813.9" font-size="29.5" text-anchor="middle" fill="#111">14</text>
<ellipse cx="328" cy="830.3" rx="22.9" ry="22.9" fill="#fff" stroke="#111" stroke-width="2"/><text x="328" y="839.9" font-size="29.5" text-anchor="middle" fill="#111">25</text>
<ellipse cx="328" cy="884" rx="22.9" ry="22.9" fill="#fff" stroke="#111" stroke-width="2"/><text x="328" y="893.6" font-size="29.5" text-anchor="middle" fill="#111">10</text>
<ellipse cx="319.8" cy="950.6" rx="22.9" ry="22.9" fill="#fff" stroke="#111" stroke-width="2"/><text x="319.8" y="960.2" font-size="29.5" text-anchor="middle" fill="#111">28</text>
<ellipse cx="623.85" cy="939.7" rx="22.9" ry="22.9" fill="#fff" stroke="#111" stroke-width="2"/><text x="623.85" y="949.3" font-size="29.5" text-anchor="middle" fill="#111">9</text>
<circle cx="260.8" cy="603.4" r="20.8" fill="#723f9c" stroke="#3a1d5c" stroke-width="1"/><circle cx="260.8" cy="603.4" r="5.9" fill="#fff" stroke="#3a1d5c" stroke-width="0.8"/>
<circle cx="478.6" cy="603.5" r="20.8" fill="#723f9c" stroke="#3a1d5c" stroke-width="1"/><circle cx="478.6" cy="603.5" r="5.9" fill="#fff" stroke="#3a1d5c" stroke-width="0.8"/>
<circle cx="260.5" cy="904.5" r="20.8" fill="#723f9c" stroke="#3a1d5c" stroke-width="1"/><circle cx="260.5" cy="904.5" r="5.9" fill="#fff" stroke="#3a1d5c" stroke-width="0.8"/>
<circle cx="478.4" cy="904.2" r="20.8" fill="#723f9c" stroke="#3a1d5c" stroke-width="1"/><circle cx="478.4" cy="904.2" r="5.9" fill="#fff" stroke="#3a1d5c" stroke-width="0.8"/>
</svg>
</body></html>
